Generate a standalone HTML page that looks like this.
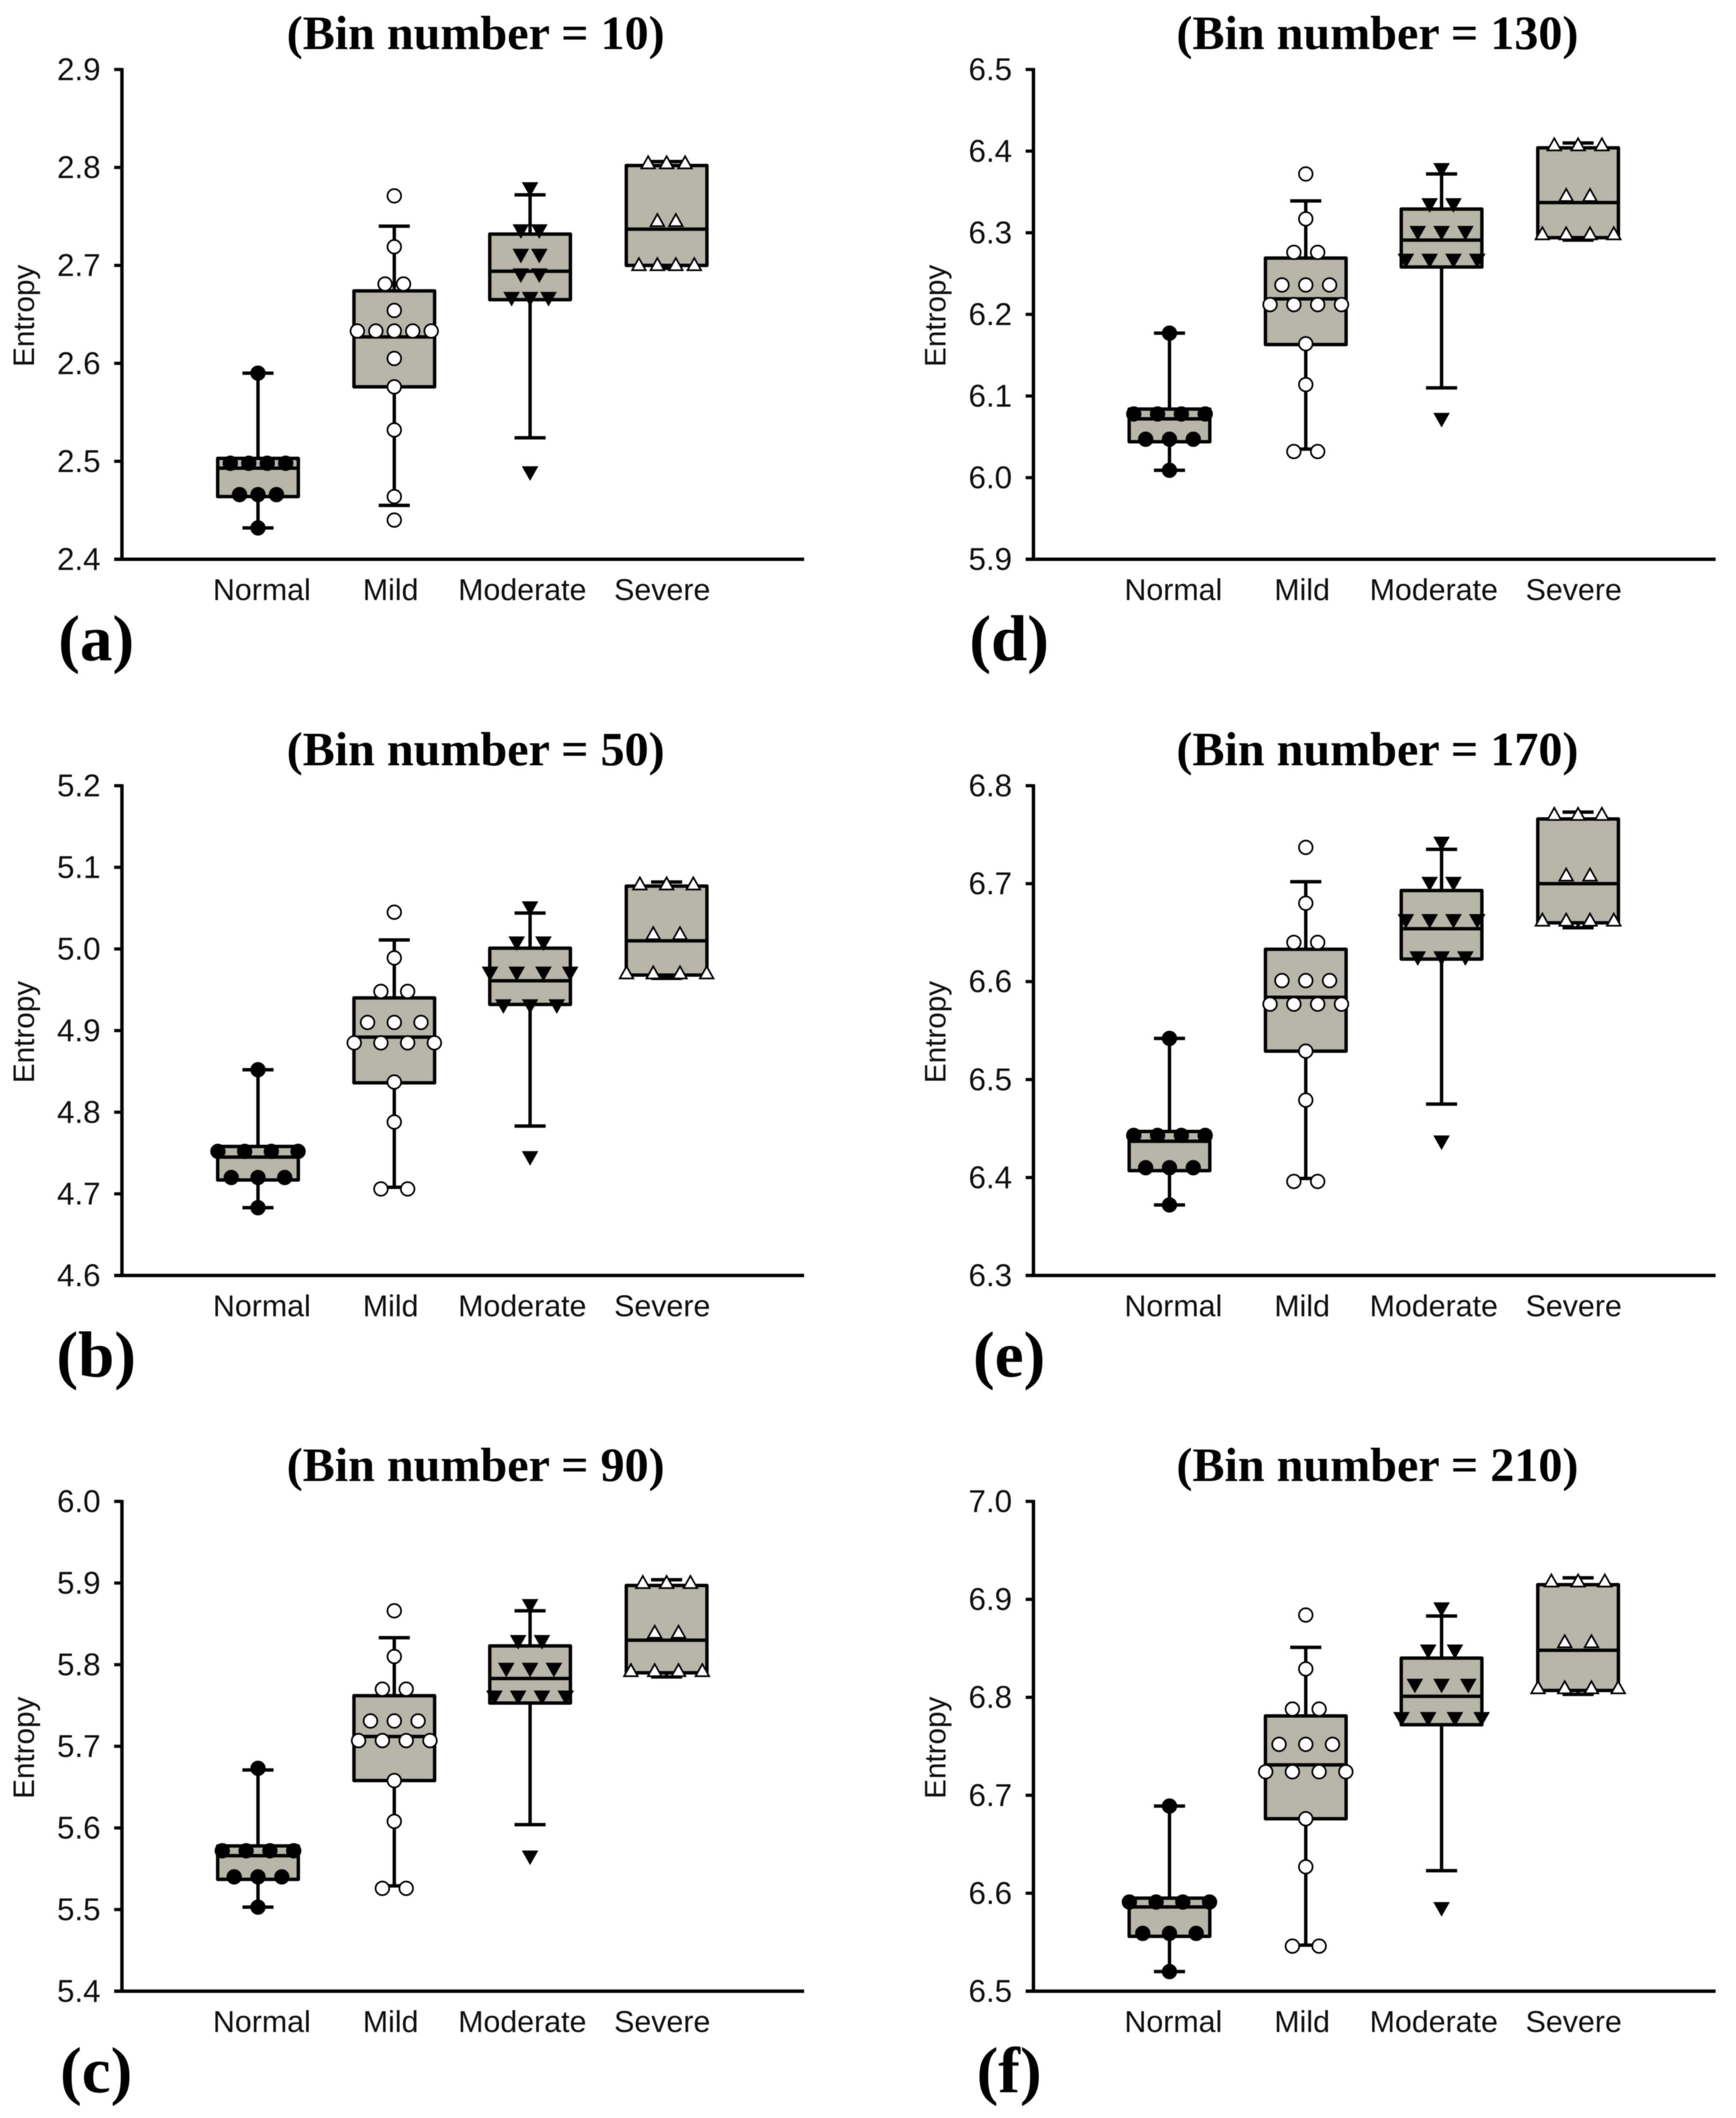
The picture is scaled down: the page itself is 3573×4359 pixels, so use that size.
<!DOCTYPE html>
<html lang="en">
<head>
<meta charset="utf-8">
<title>Entropy by severity for six bin numbers</title>
<style>
html,body{margin:0;padding:0;background:#fff;}
#chart{display:block;width:3573px;height:4359px;filter:blur(0.8px);}
</style>
</head>
<body>
<svg id="chart" xmlns="http://www.w3.org/2000/svg" width="3573" height="4359" viewBox="0 0 3573 4359"></svg>
<script>
// ---- Shared categories ----
const categories = ['Normal', 'Mild', 'Moderate', 'Severe'];
const yAxisTitle = 'Entropy';

// ---- Panel text ----
const panelIds = ['a', 'b', 'c', 'd', 'e', 'f'];
const panelLetters = ['(a)', '(b)', '(c)', '(d)', '(e)', '(f)'];
const panelTitles = ['(Bin number = 10)', '(Bin number = 50)', '(Bin number = 90)', '(Bin number = 130)', '(Bin number = 170)', '(Bin number = 210)'];

// ---- Tick labels ----
const ticksA = ['2.4', '2.5', '2.6', '2.7', '2.8', '2.9'];
const ticksB = ['4.6', '4.7', '4.8', '4.9', '5.0', '5.1', '5.2'];
const ticksC = ['5.4', '5.5', '5.6', '5.7', '5.8', '5.9', '6.0'];
const ticksD = ['5.9', '6.0', '6.1', '6.2', '6.3', '6.4', '6.5'];
const ticksE = ['6.3', '6.4', '6.5', '6.6', '6.7', '6.8'];
const ticksF = ['6.5', '6.6', '6.7', '6.8', '6.9', '7.0'];

// ---- Box statistics per category: [lower whisker, Q1, median, Q3, upper whisker] ----
const boxesA = [
  [2.432, 2.464, 2.493, 2.503, 2.590],
  [2.455, 2.576, 2.627, 2.674, 2.740],
  [2.524, 2.665, 2.694, 2.732, 2.772],
  [2.697, 2.700, 2.737, 2.802, 2.806]
];
const boxesB = [
  [4.683, 4.717, 4.745, 4.758, 4.852],
  [4.708, 4.836, 4.892, 4.940, 5.011],
  [4.783, 4.932, 4.961, 5.001, 5.044],
  [4.964, 4.968, 5.010, 5.077, 5.082]
];
const boxesC = [
  [5.503, 5.537, 5.566, 5.578, 5.671],
  [5.529, 5.658, 5.712, 5.762, 5.833],
  [5.604, 5.753, 5.783, 5.823, 5.866],
  [5.785, 5.790, 5.830, 5.897, 5.904]
];
const boxesD = [
  [6.009, 6.044, 6.072, 6.084, 6.177],
  [6.035, 6.163, 6.219, 6.269, 6.339],
  [6.110, 6.258, 6.291, 6.329, 6.372],
  [6.291, 6.294, 6.337, 6.404, 6.410]
];
const boxesE = [
  [6.372, 6.407, 6.437, 6.447, 6.542],
  [6.399, 6.529, 6.584, 6.633, 6.702],
  [6.475, 6.623, 6.654, 6.693, 6.735],
  [6.655, 6.660, 6.700, 6.766, 6.773]
];
const boxesF = [
  [6.520, 6.556, 6.586, 6.595, 6.689],
  [6.547, 6.676, 6.731, 6.781, 6.851],
  [6.623, 6.772, 6.801, 6.840, 6.883],
  [6.803, 6.807, 6.848, 6.915, 6.922]
];

// ---- Individual observations per category (equal values sit side by side) ----
const pointsA = [
  [2.590, 2.498, 2.498, 2.498, 2.498, 2.466, 2.466, 2.466, 2.432],
  [2.771, 2.719, 2.681, 2.681, 2.654, 2.633, 2.633, 2.633, 2.633, 2.633, 2.605, 2.576, 2.532, 2.464, 2.440],
  [2.778, 2.735, 2.735, 2.710, 2.710, 2.690, 2.690, 2.666, 2.666, 2.666, 2.488],
  [2.805, 2.805, 2.805, 2.746, 2.746, 2.701, 2.701, 2.701, 2.701]
];
const pointsB = [
  [4.852, 4.752, 4.752, 4.752, 4.752, 4.720, 4.720, 4.720, 4.683],
  [5.045, 4.989, 4.948, 4.948, 4.910, 4.910, 4.910, 4.885, 4.885, 4.885, 4.885, 4.837, 4.788, 4.706, 4.706],
  [5.050, 5.007, 5.007, 4.970, 4.970, 4.970, 4.970, 4.930, 4.930, 4.930, 4.744],
  [5.080, 5.080, 5.080, 5.019, 5.019, 4.971, 4.971, 4.971, 4.971]
];
const pointsC = [
  [5.673, 5.572, 5.572, 5.572, 5.572, 5.540, 5.540, 5.540, 5.503],
  [5.866, 5.810, 5.770, 5.770, 5.731, 5.731, 5.731, 5.707, 5.707, 5.707, 5.707, 5.658, 5.608, 5.526, 5.526],
  [5.872, 5.828, 5.828, 5.794, 5.794, 5.794, 5.760, 5.760, 5.760, 5.760, 5.564],
  [5.901, 5.901, 5.901, 5.840, 5.840, 5.793, 5.793, 5.793, 5.793]
];
const pointsD = [
  [6.177, 6.078, 6.078, 6.078, 6.078, 6.047, 6.047, 6.047, 6.009],
  [6.372, 6.317, 6.276, 6.276, 6.236, 6.236, 6.236, 6.212, 6.212, 6.212, 6.212, 6.164, 6.114, 6.032, 6.032],
  [6.377, 6.334, 6.334, 6.300, 6.300, 6.300, 6.266, 6.266, 6.266, 6.266, 6.071],
  [6.408, 6.408, 6.408, 6.346, 6.346, 6.299, 6.299, 6.299, 6.299]
];
const pointsE = [
  [6.542, 6.443, 6.443, 6.443, 6.443, 6.410, 6.410, 6.410, 6.372],
  [6.737, 6.680, 6.640, 6.640, 6.601, 6.601, 6.601, 6.577, 6.577, 6.577, 6.577, 6.529, 6.479, 6.396, 6.396],
  [6.741, 6.700, 6.700, 6.662, 6.662, 6.662, 6.662, 6.624, 6.624, 6.624, 6.436],
  [6.771, 6.771, 6.771, 6.709, 6.709, 6.663, 6.663, 6.663, 6.663]
];
const pointsF = [
  [6.689, 6.591, 6.591, 6.591, 6.591, 6.559, 6.559, 6.559, 6.520],
  [6.884, 6.829, 6.788, 6.788, 6.752, 6.752, 6.752, 6.724, 6.724, 6.724, 6.724, 6.676, 6.627, 6.546, 6.546],
  [6.890, 6.847, 6.847, 6.812, 6.812, 6.812, 6.778, 6.778, 6.778, 6.778, 6.584],
  [6.919, 6.919, 6.919, 6.857, 6.857, 6.810, 6.810, 6.810, 6.810]
];

const allTicks = [ticksA, ticksB, ticksC, ticksD, ticksE, ticksF];
const allBoxes = [boxesA, boxesB, boxesC, boxesD, boxesE, boxesF];
const allPoints = [pointsA, pointsB, pointsC, pointsD, pointsE, pointsF];

// ---- Layout (geometry only, separate from the data above) ----
const LAYOUT = {
  columnAxisX: [251, 2127],
  rowTop: [143, 1617, 3090],
  plotHeight: 1008,
  plotWidth: 1404,
  titleCenterOffset: [728, 708],
  letterCenterX: [198, 2077],
  boxOffsets: [280, 560.5, 840, 1121],
  labelOffsets: [288, 553, 824, 1112],
  markerSpacing: [38, 55, 49, 49, 49, 55]
};
const BOX_FILL = '#b6b5a8';
const INK = '#000';
const LINE_W = 7;
const SANS = '"Liberation Sans", Arial, sans-serif';
const SERIF = '"Liberation Serif", "Times New Roman", serif';

const svg = document.getElementById('chart');
const NS = 'http://www.w3.org/2000/svg';

function mk(parent, tag, attrs, text) {
  const n = document.createElementNS(NS, tag);
  for (const k in attrs) n.setAttribute(k, attrs[k]);
  if (text !== undefined) n.textContent = text;
  parent.appendChild(n);
  return n;
}

function rowsFromValues(values) {
  const counts = new Map();
  values.forEach(function (v) { counts.set(v, (counts.get(v) || 0) + 1); });
  return Array.from(counts.entries());
}

function drawMarker(parent, catIndex, cx, cy) {
  let el;
  if (catIndex === 0) {
    el = mk(parent, 'circle', { cx: cx, cy: cy, r: 14, fill: INK, stroke: INK, 'stroke-width': 3.5 });
  } else if (catIndex === 1) {
    el = mk(parent, 'circle', { cx: cx, cy: cy, r: 14, fill: '#fff', stroke: INK, 'stroke-width': 3.5 });
  } else if (catIndex === 2) {
    el = mk(parent, 'polygon', { points: (cx - 17) + ',' + (cy - 14) + ' ' + (cx + 17) + ',' + (cy - 14) + ' ' + cx + ',' + (cy + 16), fill: INK });
  } else {
    el = mk(parent, 'polygon', { points: cx + ',' + (cy - 13) + ' ' + (cx + 14) + ',' + (cy + 12) + ' ' + (cx - 14) + ',' + (cy + 12), fill: '#fff', stroke: INK, 'stroke-width': 3.5 });
  }
  
  
}

function drawPanel(p) {
  const col = p < 3 ? 0 : 1;
  const row = p % 3;
  const axisX = LAYOUT.columnAxisX[col];
  const top = LAYOUT.rowTop[row];
  const bottom = top + LAYOUT.plotHeight;
  const right = axisX + LAYOUT.plotWidth;
  const ticks = allTicks[p];
  const yMin = parseFloat(ticks[0]);
  const yMax = parseFloat(ticks[ticks.length - 1]);
  const yScale = function (v) { return bottom - (v - yMin) / (yMax - yMin) * (bottom - top); };
  const xScale = function (c) { return axisX + LAYOUT.boxOffsets[c]; };
  const spacing = LAYOUT.markerSpacing[p];

  const g = mk(svg, 'g', {});
  
  

  const title = mk(g, 'text', { x: axisX + LAYOUT.titleCenterOffset[col], y: top - 42, 'text-anchor': 'middle', 'font-family': SERIF, 'font-weight': 'bold', 'font-size': 99, fill: '#000' }, panelTitles[p]);
  
  

  const letter = mk(g, 'text', { x: LAYOUT.letterCenterX[col], y: bottom + 208, 'text-anchor': 'middle', 'font-family': SERIF, 'font-weight': 'bold', 'font-size': 134, fill: '#000' }, panelLetters[p]);
  
  

  const yTitle = mk(g, 'text', { transform: 'translate(' + (axisX - 181) + ',' + ((top + bottom) / 2 + 3) + ') rotate(-90)', 'text-anchor': 'middle', 'font-family': SANS, 'font-size': 61, fill: '#111' }, yAxisTitle);
  
  

  const yAxis = mk(g, 'line', { x1: axisX, x2: axisX, y1: top - 3, y2: bottom + 3, stroke: INK, 'stroke-width': LINE_W });
  
  

  const xAxis = mk(g, 'line', { x1: axisX - 16, x2: right, y1: bottom, y2: bottom, stroke: INK, 'stroke-width': LINE_W });
  
  

  ticks.forEach(function (label) {
    const y = yScale(parseFloat(label));
    const tick = mk(g, 'line', { x1: axisX - 16, x2: axisX, y1: y, y2: y, stroke: INK, 'stroke-width': 6.5 });
    
    
    const tl = mk(g, 'text', { x: axisX - 44, y: y + 22, 'text-anchor': 'end', 'font-family': SANS, 'font-size': 64.5, fill: '#111' }, label);
    
    
  });

  categories.forEach(function (name, c) {
    const cl = mk(g, 'text', { x: axisX + LAYOUT.labelOffsets[c], y: bottom + 84, 'text-anchor': 'middle', 'font-family': SANS, 'font-size': 62.5, fill: '#111' }, name);
    
    
  });

  allBoxes[p].forEach(function (stats, c) {
    const cx = xScale(c);
    const lo = yScale(stats[0]), q1 = yScale(stats[1]), med = yScale(stats[2]), q3 = yScale(stats[3]), hi = yScale(stats[4]);
    const bg = mk(g, 'g', {});
    
    

    const wl = mk(bg, 'line', { x1: cx, x2: cx, y1: q1, y2: lo, stroke: INK, 'stroke-width': LINE_W });
    
    
    const wh = mk(bg, 'line', { x1: cx, x2: cx, y1: q3, y2: hi, stroke: INK, 'stroke-width': LINE_W });
    
    
    const cl = mk(bg, 'line', { x1: cx - 32, x2: cx + 32, y1: lo, y2: lo, stroke: INK, 'stroke-width': LINE_W });
    
    
    const ch = mk(bg, 'line', { x1: cx - 32, x2: cx + 32, y1: hi, y2: hi, stroke: INK, 'stroke-width': LINE_W });
    
    

    const rect = mk(bg, 'rect', { x: cx - 83, y: q3, width: 166, height: q1 - q3, fill: BOX_FILL, stroke: INK, 'stroke-width': LINE_W, 'stroke-linejoin': 'round' });
    
    
    const ml = mk(bg, 'line', { x1: cx - 83, x2: cx + 83, y1: med, y2: med, stroke: INK, 'stroke-width': LINE_W });
    
    

    rowsFromValues(allPoints[p][c]).forEach(function (entry) {
      const value = entry[0], count = entry[1];
      for (let i = 0; i < count; i++) {
        drawMarker(bg, c, cx + (i - (count - 1) / 2) * spacing, yScale(value));
      }
    });
  });
}

panelIds.forEach(function (id, p) { drawPanel(p); });
</script>
</body>
</html>
